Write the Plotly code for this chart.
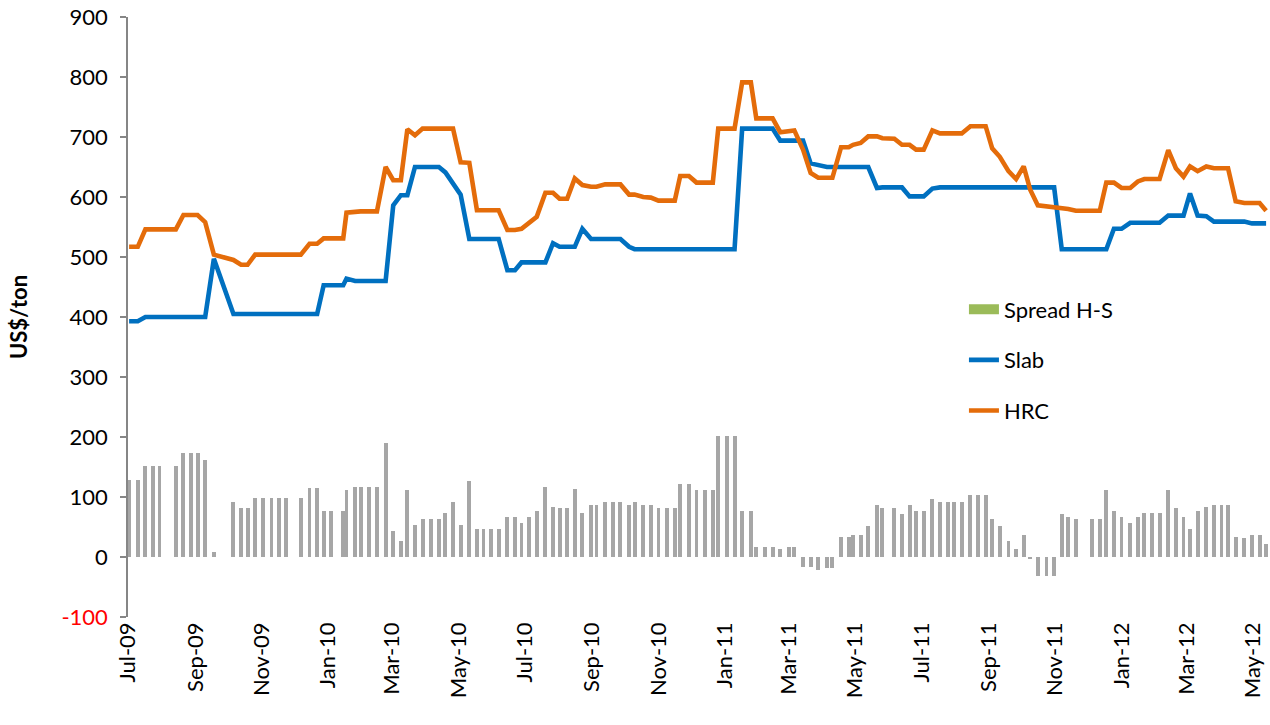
import plotly.graph_objects as go

dates = [
    "2009-07-02", "2009-07-10", "2009-07-17", "2009-07-24", "2009-07-30", "2009-08-14", "2009-08-21", "2009-08-28",
    "2009-09-03", "2009-09-10", "2009-09-18", "2009-10-06", "2009-10-13", "2009-10-19", "2009-10-26", "2009-11-02",
    "2009-11-10", "2009-11-17", "2009-11-23", "2009-12-07", "2009-12-15", "2009-12-22", "2009-12-28", "2010-01-04",
    "2010-01-15", "2010-01-18", "2010-01-26", "2010-01-31", "2010-02-08", "2010-02-15", "2010-02-23", "2010-03-02",
    "2010-03-09", "2010-03-15", "2010-03-22", "2010-03-29", "2010-04-06", "2010-04-13", "2010-04-19", "2010-04-26",
    "2010-05-03", "2010-05-11", "2010-05-18", "2010-05-24", "2010-05-31", "2010-06-07", "2010-06-15", "2010-06-22",
    "2010-06-28", "2010-07-05", "2010-07-12", "2010-07-20", "2010-07-27", "2010-08-02", "2010-08-09", "2010-08-16",
    "2010-08-23", "2010-08-31", "2010-09-05", "2010-09-13", "2010-09-20", "2010-09-27", "2010-10-05", "2010-10-10",
    "2010-10-18", "2010-10-25", "2010-11-01", "2010-11-09", "2010-11-16", "2010-11-21", "2010-11-29", "2010-12-06",
    "2010-12-14", "2010-12-21", "2010-12-26", "2011-01-03", "2011-01-10", "2011-01-17", "2011-01-25", "2011-01-30",
    "2011-02-07", "2011-02-14", "2011-02-21", "2011-03-01", "2011-03-06", "2011-03-14", "2011-03-21", "2011-03-28",
    "2011-04-05", "2011-04-10", "2011-04-18", "2011-04-25", "2011-04-29", "2011-05-06", "2011-05-13", "2011-05-21",
    "2011-05-26", "2011-06-06", "2011-06-13", "2011-06-20", "2011-06-26", "2011-07-03", "2011-07-11", "2011-07-18",
    "2011-07-25", "2011-07-31", "2011-08-07", "2011-08-15", "2011-08-22", "2011-08-29", "2011-09-04", "2011-09-11",
    "2011-09-19", "2011-09-26", "2011-10-03", "2011-10-09", "2011-10-16", "2011-10-24", "2011-10-31", "2011-11-07",
    "2011-11-13", "2011-11-20", "2011-12-05", "2011-12-12", "2011-12-18", "2011-12-25", "2012-01-01", "2012-01-09",
    "2012-01-16", "2012-01-22", "2012-01-29", "2012-02-05", "2012-02-13", "2012-02-20", "2012-02-27", "2012-03-04",
    "2012-03-11", "2012-03-19", "2012-03-26", "2012-04-02", "2012-04-08", "2012-04-15", "2012-04-23", "2012-04-30",
    "2012-05-07", "2012-05-13",
]

hrc = [
    517, 517, 546, 546, 546, 546, 570, 570, 570, 558, 504, 495, 487, 487, 504, 504,
    504, 504, 504, 504, 522, 522, 531, 531, 531, 574, 576, 576, 576, 576, 650, 628,
    628, 713, 703, 714, 714, 714, 714, 714, 658, 657, 578, 578, 578, 578, 545, 545,
    547, 557, 567, 607, 607, 597, 597, 631, 620, 617, 617, 621, 621, 621, 604, 604,
    600, 599, 594, 594, 594, 635, 635, 624, 624, 624, 714, 714, 714, 791, 791, 731,
    731, 731, 708, 711, 711, 679, 640, 632, 632, 632, 683, 683, 687, 690, 701, 701,
    698, 697, 687, 687, 679, 679, 711, 706, 706, 706, 706, 718, 718, 718, 681, 667,
    643, 630, 651, 612, 586, 584, 584, 582, 580, 577, 577, 577, 624, 624, 615, 615,
    626, 630, 630, 630, 678, 648, 634, 651, 643, 651, 648, 648, 648, 593, 590, 590,
    590, 577,
]

slab = [
    393, 393, 400, 400, 400, 400, 400, 400, 400, 400, 497, 405, 405, 405, 405, 405,
    405, 405, 405, 405, 405, 405, 453, 453, 453, 464, 460, 460, 460, 460, 460, 586,
    603, 603, 650, 650, 650, 650, 641, 622, 604, 530, 530, 530, 530, 530, 478, 478,
    491, 491, 491, 491, 523, 517, 517, 517, 547, 530, 530, 530, 530, 530, 517, 513,
    513, 513, 513, 513, 513, 513, 513, 513, 513, 513, 513, 513, 513, 714, 714, 714,
    714, 714, 694, 694, 694, 694, 656, 653, 650, 650, 650, 650, 650, 650, 650, 615,
    616, 616, 616, 601, 601, 601, 614, 616, 616, 616, 616, 616, 616, 616, 616, 616,
    616, 616, 616, 616, 616, 616, 616, 513, 513, 513, 513, 513, 513, 547, 547, 557,
    557, 557, 557, 557, 569, 569, 569, 606, 569, 568, 559, 559, 559, 559, 559, 556,
    556, 556,
]

spread = [
    128, 128, 151, 151, 151, 151, 174, 174, 174, 161, 8, 91, 81, 81, 98, 98,
    98, 98, 98, 98, 115, 115, 77, 77, 77, 111, 117, 117, 117, 117, 190, 44,
    27, 111, 54, 64, 64, 64, 74, 91, 54, 127, 47, 47, 47, 47, 67, 67,
    57, 67, 77, 117, 84, 81, 81, 114, 74, 87, 87, 91, 91, 91, 87, 91,
    87, 87, 81, 81, 81, 121, 121, 111, 111, 111, 201, 201, 201, 77, 77, 17,
    17, 17, 14, 17, 17, -16, -16, -22, -19, -19, 34, 34, 37, 37, 51, 87,
    81, 81, 71, 87, 77, 77, 97, 91, 91, 91, 91, 104, 104, 104, 64, 51,
    27, 14, 37, -4, -31, -31, -31, 71, 67, 64, 64, 64, 111, 77, 67, 57,
    67, 74, 74, 74, 111, 81, 67, 47, 77, 84, 87, 87, 87, 34, 31, 37,
    37, 21,
]

tick_dates = [
    "2009-07-01", "2009-09-01", "2009-11-01", "2010-01-01", "2010-03-01", "2010-05-01",
    "2010-07-01", "2010-09-01", "2010-11-01", "2011-01-01", "2011-03-01", "2011-05-01",
    "2011-07-01", "2011-09-01", "2011-11-01", "2012-01-01", "2012-03-01", "2012-05-01",
]
tick_labels = [
    "Jul-09", "Sep-09", "Nov-09", "Jan-10", "Mar-10", "May-10",
    "Jul-10", "Sep-10", "Nov-10", "Jan-11", "Mar-11", "May-11",
    "Jul-11", "Sep-11", "Nov-11", "Jan-12", "Mar-12", "May-12",
]
y_ticks = [-100, 0, 100, 200, 300, 400, 500, 600, 700, 800, 900]
y_tick_text = ['<span style="color:#FF0000">-100</span>'] + [str(v) for v in y_ticks[1:]]

x_range = ["2009-07-01", "2012-05-16 14:00"]

FONT = "Lato"
FS = 22
BLUE = "#0070C0"
ORANGE = "#E46C0A"
GREY_BAR = "#A6A6A6"
AXIS = "#868686"

fig = go.Figure()

fig.add_trace(go.Bar(
    x=dates, y=spread, name="Spread H-S", showlegend=False,
    marker=dict(color=GREY_BAR, line=dict(width=0)),
    width=3.6 * 86400000, legendgroup="a",
))
# legend entry for the spread (Excel legend shows a green swatch)
fig.add_trace(go.Scatter(
    x=[None], y=[None], name="Spread H-S", legendgroup="a", mode="lines",
    line=dict(color="#9BBB59", width=14),
))
fig.add_trace(go.Scatter(
    x=dates, y=slab, name="Slab", mode="lines", legendgroup="b",
    line=dict(color=BLUE, width=4.6),
))
fig.add_trace(go.Scatter(
    x=dates, y=hrc, name="HRC", mode="lines", legendgroup="c",
    line=dict(color=ORANGE, width=4.6),
))

fig.update_layout(
    width=1270, height=725,
    margin=dict(l=128, r=0, t=17, b=108, autoexpand=False),
    paper_bgcolor="white", plot_bgcolor="white",
    font=dict(family=FONT, size=FS, color="#000000"),
    bargap=0,
    showlegend=True,
    legend=dict(
        x=0.732, y=0.5475, xanchor="left", yanchor="top",
        traceorder="grouped", tracegroupgap=19,
        font=dict(family=FONT, size=FS, color="#000000"),
        bgcolor="rgba(0,0,0,0)",
    ),
    xaxis=dict(
        type="date", range=x_range, automargin=False,
        tickmode="array", tickvals=tick_dates, ticktext=tick_labels,
        tickangle=-90, ticks="", showline=False, showgrid=False, zeroline=False,
        ticklabeloverflow="allow",
        tickfont=dict(family=FONT, size=FS, color="#000000"),
    ),
    xaxis2=dict(
        type="date", range=x_range, overlaying="x", anchor="free", position=0.1,
        automargin=False,
        tickmode="array", tickvals=tick_dates, ticks="outside", ticklen=8, tickwidth=1.5,
        tickcolor=AXIS, showline=True, linecolor=AXIS, linewidth=1.5,
        showticklabels=False, showgrid=False, zeroline=False,
    ),
    xaxis3=dict(
        type="date", range=x_range, overlaying="x", anchor="free", position=0.1,
        automargin=False,
        tickmode="array", tickvals=tick_dates, ticks="inside", ticklen=7, tickwidth=1.5,
        tickcolor=AXIS, showline=False,
        showticklabels=False, showgrid=False, zeroline=False,
    ),
    yaxis=dict(
        range=[-100, 900], tickmode="array", tickvals=y_ticks, ticktext=y_tick_text,
        automargin=False, ticklabeloverflow="allow",
        ticks="outside", ticklen=6, tickwidth=1.5, tickcolor=AXIS,
        ticklabelstandoff=8,
        showline=True, linecolor=AXIS, linewidth=1.5,
        showgrid=False, zeroline=False,
        tickfont=dict(family=FONT, size=FS, color="#000000"),
        title=dict(text="<b>US$/ton</b>", font=dict(family=FONT, size=FS, color="#000000"),
                   standoff=28),
    ),
)

# remove the default 8px page margin so the 1270x725 figure fills the window exactly
fig.write_html(
    "out.html",
    config={"displayModeBar": False},
    post_script="document.body.style.margin='0';document.body.style.overflow='hidden';",
)
